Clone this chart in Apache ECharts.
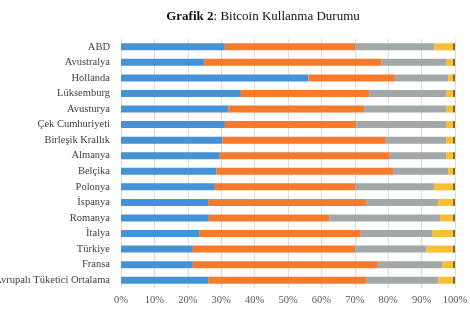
<!DOCTYPE html>
<html>
<head>
<meta charset="utf-8">
<script src="https://cdn.jsdelivr.net/npm/echarts@6/dist/echarts.min.js"></script>
<style>
html,body{margin:0;padding:0;background:#fff;}
#c{width:470px;height:314px;}
</style>
</head>
<body>
<div id="c"></div>
<script>
var categories = ['ABD','Avustralya','Hollanda','Lüksemburg','Avusturya','Çek Cumhuriyeti','Birleşik Krallık','Almanya','Belçika','Polonya','İspanya','Romanya','İtalya','Türkiye','Fransa','Avrupalı Tüketici Ortalama'];
var seriesBlue   = [31.1,24.9,56.1,35.9,32.2,31.1,30.3,29.6,28.6,28.1,26.1,26.3,23.4,21.5,21.5,26.1];
var seriesOrange = [39.0,53.1,25.9,38.4,40.6,39.3,49.0,50.9,52.9,42.0,47.3,36.1,48.4,48.6,55.4,47.3];
var seriesGray   = [23.7,19.5,16.0,23.2,24.7,26.9,18.0,16.8,16.5,23.6,21.6,33.1,21.5,21.4,19.4,21.6];
var seriesYellow = [5.6,1.9,1.4,1.9,1.9,2.1,2.1,2.1,1.4,5.7,4.4,3.9,6.1,7.9,3.1,4.4];
var seriesDark   = [0.6,0.6,0.6,0.6,0.6,0.6,0.6,0.6,0.6,0.6,0.6,0.6,0.6,0.6,0.6,0.6];
var xTicks = ['0%','10%','20%','30%','40%','50%','60%','70%','80%','90%','100%'];

var serif = '"Liberation Serif","DejaVu Serif",serif';
function mk(name, data, color){
  return {name:name, type:'bar', stack:'t', data:data, barWidth:7,
    itemStyle:{color:color}, silent:true};
}
var chart = echarts.init(document.getElementById('c'), null, {renderer:'canvas'});
chart.setOption({
  animation:false,
  title:{
    text:'{b|Grafik 2}{n|: Bitcoin Kullanma Durumu}',
    left:258, top:5, textAlign:'center',
    textStyle:{fontWeight:'normal', fontFamily:serif, fontSize:13, color:'#111',
      rich:{
      b:{fontFamily:serif,fontWeight:'bold',fontSize:13,color:'#111'},
      n:{fontFamily:serif,fontWeight:'normal',fontSize:13,color:'#111'}
    }}
  },
  grid:{left:121, right:15, top:39, bottom:26, containLabel:false, outerBoundsMode:'none'},
  xAxis:{
    type:'value', min:0, max:100, interval:10,
    axisLine:{show:false}, axisTick:{show:false},
    splitLine:{show:true, lineStyle:{color:'#dcdcdc', width:1}},
    axisLabel:{margin:7, fontFamily:serif, fontSize:10.5, color:'#595959',
      formatter:function(v){return xTicks[Math.round(v/10)];}}
  },
  yAxis:{
    type:'category', data:categories, inverse:true,
    axisLine:{show:false}, axisTick:{show:false},
    axisLabel:{margin:11, fontFamily:serif, fontSize:10.5, color:'#404040'}
  },
  series:[
    mk('A', seriesBlue, '#4592d4'),
    mk('B', seriesOrange, '#f57a2c'),
    mk('C', seriesGray, '#a2a7a7'),
    mk('D', seriesYellow, '#f8bf33'),
    mk('E', seriesDark, '#8a6a20')
  ]
});
</script>
</body>
</html>
